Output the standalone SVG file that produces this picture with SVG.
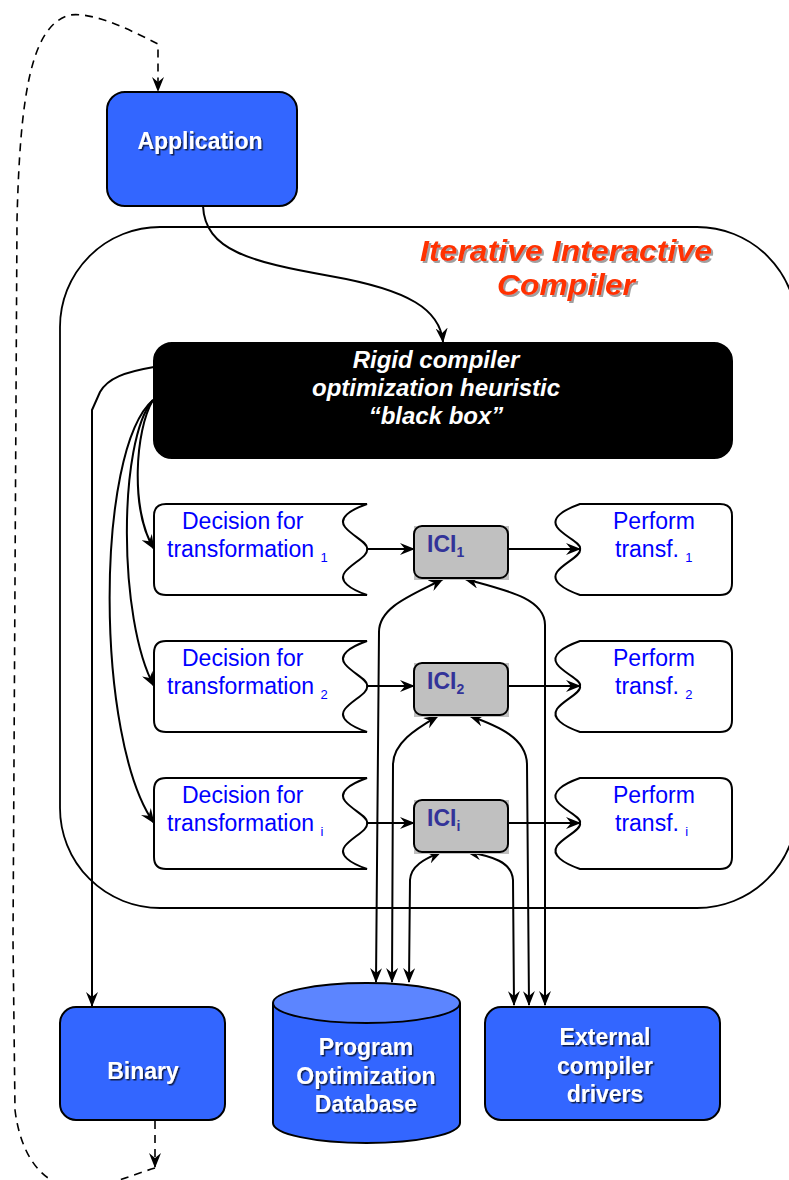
<svg xmlns="http://www.w3.org/2000/svg" width="789" height="1180" viewBox="0 0 789 1180">
  <defs>
    <style>
      .blue { fill: #3366FF; stroke: #000; stroke-width: 2; }
      .wt { font-family: "Liberation Sans", Arial, sans-serif; font-weight: bold; fill: #fff; text-anchor: middle; filter: url(#shadow); }
      .dec { fill: #fff; stroke: #000; stroke-width: 2; }
      .bt { font-family: "Liberation Sans", Arial, sans-serif; font-size: 23px; fill: #0000FF; }
      .sub { font-size: 13px; }
      .ici { fill: #C0C0C0; stroke: #000; stroke-width: 2; }
      .icit { font-family: "Liberation Sans", Arial, sans-serif; font-size: 23px; font-weight: bold; fill: #333399; }
      .ttl { font-family: "Liberation Sans", Arial, sans-serif; font-size: 29px; font-weight: bold; font-style: italic; fill: #FF3300; text-anchor: middle; filter: url(#tshadow); }
      .ln { fill: none; stroke: #000; stroke-width: 2; }
      .arr { marker-end: url(#ah); }
      .both { marker-start: url(#ahs); marker-end: url(#ah); }
      .dash { fill: none; stroke: #000; stroke-width: 1.6; stroke-dasharray: 8 6; }
    </style>
    <marker id="ah" viewBox="0 0 15 12" refX="14" refY="6" markerWidth="15" markerHeight="12" markerUnits="userSpaceOnUse" orient="auto">
      <path d="M0,0 L15,6 L0,12 L5,6 Z" fill="#000"/>
    </marker>
    <marker id="ahs" viewBox="0 0 15 12" refX="14" refY="6" markerWidth="15" markerHeight="12" markerUnits="userSpaceOnUse" orient="auto-start-reverse">
      <path d="M0,0 L15,6 L0,12 L5,6 Z" fill="#000"/>
    </marker>
    <filter id="shadow" x="-10%" y="-20%" width="130%" height="150%">
      <feDropShadow dx="1.5" dy="1.5" stdDeviation="0.4" flood-color="#000" flood-opacity="0.7"/>
    </filter>
    <filter id="tshadow" x="-10%" y="-20%" width="130%" height="150%">
      <feDropShadow dx="2" dy="2" stdDeviation="0.6" flood-color="#888" flood-opacity="0.8"/>
    </filter>
    <!-- decision shape: rounded left, wavy right edge -->
    <path id="decShape" d="M166,504 H367 C350,510 338,518 345,527 C352,536 369,543 367,549 C369,556 352,563 345,572 C338,581 350,589 367,595 H166 Q154,595 154,583 V516 Q154,504 166,504 Z"/>
    <!-- perform shape: wavy left edge, rounded right -->
    <path id="perfShape" d="M580,504 H720 Q732,504 732,516 V583 Q732,595 720,595 H580 C563,589 551,581 557,572 C563,563 582,556 580,549 C582,543 563,536 557,527 C551,518 563,510 580,504 Z"/>
  </defs>

  <rect width="789" height="1180" fill="#fff"/>

  <!-- compiler container -->
  <g id="compiler">
    <rect x="60" y="227" width="737" height="681" rx="100" ry="100" fill="none" stroke="#000" stroke-width="1.8"/>
    <text class="ttl" x="566" y="261" textLength="292" lengthAdjust="spacingAndGlyphs">Iterative Interactive</text>
    <text class="ttl" x="566" y="295" textLength="138" lengthAdjust="spacingAndGlyphs">Compiler</text>
  </g>

  <!-- connectors -->
  <g id="connectors">
    <!-- feedback loop -->
    <path class="dash arr" d="M155,1121 V1167"/>
    <path class="dash arr" d="M155,1168 C128,1176 100,1190 72,1187 C38,1183 20,1150 15,1110 L13,940 L17,220 C20,100 30,25 70,15 C95,12 130,30 158,44 L158,91"/>
    <!-- application into black box -->
    <path class="ln arr" d="M203,206 C205,250 250,262 330,276 C410,290 440,310 443,342"/>
    <!-- black box to binary -->
    <path class="ln arr" d="M154,367 C125,372 108,378 100,392 L92,410 L92,1006"/>
    <!-- black box to decisions -->
    <path class="ln arr" d="M153,400 C135,430 130,510 154,549"/>
    <path class="ln arr" d="M153,400 C118,440 118,620 154,686"/>
    <path class="ln arr" d="M153,400 C95,450 95,740 154,823"/>
    <!-- decision to ICI -->
    <path class="ln arr" d="M367,549 H414"/>
    <path class="ln arr" d="M367,686 H414"/>
    <path class="ln arr" d="M367,823 H414"/>
    <!-- ICI to perform -->
    <path class="ln arr" d="M508,549 H580"/>
    <path class="ln arr" d="M508,686 H580"/>
    <path class="ln arr" d="M508,823 H580"/>
    <!-- ICI <-> database -->
    <path class="ln both" d="M376,982 L379,632 C379,606 415,594 443,579"/>
    <path class="ln both" d="M392,982 L393,765 C393,742 418,728 438,716"/>
    <path class="ln both" d="M409,982 L410,880 C411,864 428,858 441,852"/>
    <!-- ICI <-> external drivers -->
    <path class="ln both" d="M545,1005 L545,625 C545,598 505,590 465,579"/>
    <path class="ln both" d="M529,1005 L527,765 C527,738 498,726 470,716"/>
    <path class="ln both" d="M514,1005 L513,880 C512,862 492,856 467,852"/>
  </g>

  <g id="application">
    <rect class="blue" x="107" y="92" width="190" height="114" rx="18"/>
    <text class="wt" x="200" y="149" font-size="23">Application</text>
  </g>

  <g id="blackbox">
    <rect x="154" y="343" width="578" height="115" rx="18" fill="#000" stroke="#000" stroke-width="2"/>
    <g font-family="Liberation Sans, Arial, sans-serif" font-size="24" font-weight="bold" font-style="italic" fill="#fff" text-anchor="middle">
      <text x="436" y="368">Rigid compiler</text>
      <text x="436" y="396">optimization heuristic</text>
      <text x="436" y="424">“black box”</text>
    </g>
  </g>

  <g id="decision1">
    <use href="#decShape" class="dec"/>
    <text class="bt" x="182" y="529">Decision for</text>
    <text class="bt" x="167" y="557">transformation <tspan class="sub" dy="5">1</tspan></text>
  </g>
  <g id="decision2" transform="translate(0,137)">
    <use href="#decShape" class="dec"/>
    <text class="bt" x="182" y="529">Decision for</text>
    <text class="bt" x="167" y="557">transformation <tspan class="sub" dy="5">2</tspan></text>
  </g>
  <g id="decision3" transform="translate(0,274)">
    <use href="#decShape" class="dec"/>
    <text class="bt" x="182" y="529">Decision for</text>
    <text class="bt" x="167" y="557">transformation <tspan class="sub" dy="5">i</tspan></text>
  </g>

  <g id="ici1">
    <rect x="414" y="526" width="95" height="54" fill="#C0C0C0"/>
    <rect class="ici" x="414" y="526" width="94" height="52" rx="8"/>
    <text class="icit" x="427" y="552">ICI<tspan font-size="14" dy="5">1</tspan></text>
  </g>
  <g id="ici2">
    <rect x="414" y="663" width="95" height="54" fill="#C0C0C0"/>
    <rect class="ici" x="414" y="663" width="94" height="52" rx="8"/>
    <text class="icit" x="427" y="689">ICI<tspan font-size="14" dy="5">2</tspan></text>
  </g>
  <g id="icii">
    <rect x="414" y="800" width="95" height="54" fill="#C0C0C0"/>
    <rect class="ici" x="414" y="800" width="94" height="52" rx="8"/>
    <text class="icit" x="427" y="826">ICI<tspan font-size="14" dy="5">i</tspan></text>
  </g>

  <g id="perform1">
    <use href="#perfShape" class="dec"/>
    <text class="bt" x="613" y="529">Perform</text>
    <text class="bt" x="615" y="557">transf. <tspan class="sub" dy="5">1</tspan></text>
  </g>
  <g id="perform2" transform="translate(0,137)">
    <use href="#perfShape" class="dec"/>
    <text class="bt" x="613" y="529">Perform</text>
    <text class="bt" x="615" y="557">transf. <tspan class="sub" dy="5">2</tspan></text>
  </g>
  <g id="perform3" transform="translate(0,274)">
    <use href="#perfShape" class="dec"/>
    <text class="bt" x="613" y="529">Perform</text>
    <text class="bt" x="615" y="557">transf. <tspan class="sub" dy="5">i</tspan></text>
  </g>

  <g id="binary">
    <rect class="blue" x="60" y="1007" width="165" height="113" rx="16"/>
    <text class="wt" x="143" y="1079" font-size="23">Binary</text>
  </g>

  <g id="database">
    <path class="blue" d="M273,1003 V1123 A93.5,20 0 0 0 460,1123 V1003"/>
    <ellipse cx="366.5" cy="1003" rx="93.5" ry="20" fill="#5C85FF" stroke="#000" stroke-width="2"/>
    <text class="wt" x="366" y="1055" font-size="23">Program</text>
    <text class="wt" x="366" y="1084" font-size="23">Optimization</text>
    <text class="wt" x="366" y="1112" font-size="23">Database</text>
  </g>

  <g id="drivers">
    <rect class="blue" x="485" y="1007" width="235" height="113" rx="16"/>
    <text class="wt" x="605" y="1045" font-size="23">External</text>
    <text class="wt" x="605" y="1074" font-size="23">compiler</text>
    <text class="wt" x="605" y="1102" font-size="23">drivers</text>
  </g>
</svg>
